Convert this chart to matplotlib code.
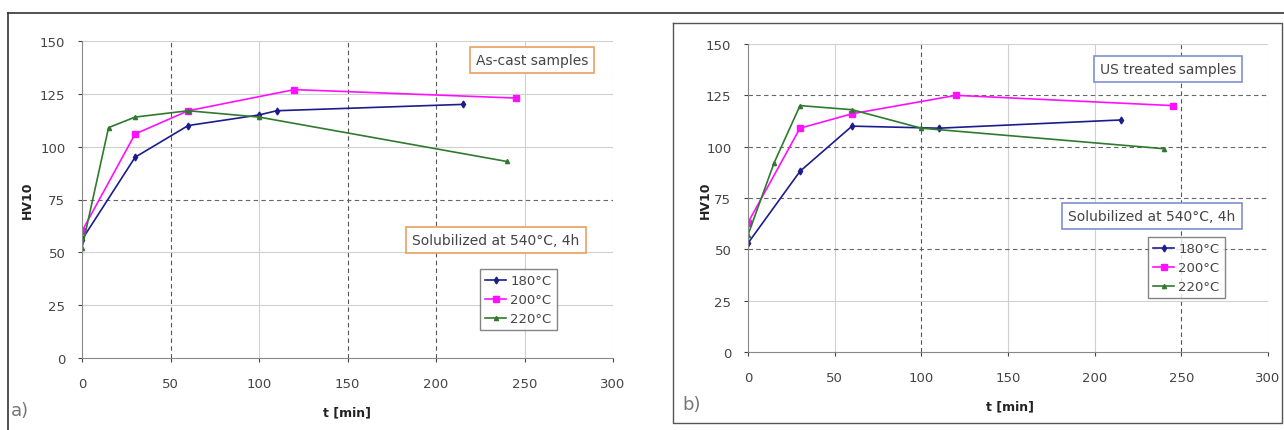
import matplotlib
matplotlib.use("Agg")
import matplotlib.pyplot as plt
from matplotlib.lines import Line2D

# as-cast samples (panel a)
t_a_180 = [0, 30, 60, 100, 110, 215]
hv_a_180 = [56, 95, 110, 115, 117, 120]
t_a_200 = [0, 30, 60, 120, 245]
hv_a_200 = [60, 106, 117, 127, 123]
t_a_220 = [0, 15, 30, 60, 100, 240]
hv_a_220 = [52, 109, 114, 117, 114, 93]

# US treated samples (panel b)
t_b_180 = [0, 30, 60, 110, 215]
hv_b_180 = [53, 88, 110, 109, 113]
t_b_200 = [0, 30, 60, 120, 245]
hv_b_200 = [63, 109, 116, 125, 120]
t_b_220 = [0, 15, 30, 60, 100, 240]
hv_b_220 = [57, 92, 120, 118, 109, 99]

series_labels = ["180°C", "200°C", "220°C"]
x_ticks = [0, 50, 100, 150, 200, 250, 300]
y_ticks = [0, 25, 50, 75, 100, 125, 150]

W, H = 1284, 431
txt = "#444444"
colors = ["#1c1c8c", "#ff10ff", "#2f7a2f"]
markers = ["d", "s", "^"]
msizes = [3.5, 4, 3]

fig = plt.figure(figsize=(W / 100, H / 100), dpi=100)


def fx(px):
    return px / W


def fy(py):
    return 1 - py / H


def panel(rect, data, vgrid_dark, hgrid_dark, box_color, title, title_xy, sol_xy, leg_xy):
    ax = fig.add_axes(rect)
    for (t, hv), c, m, s, lab in zip(data, colors, markers, msizes, series_labels):
        ax.plot(t, hv, color=c, marker=m, markersize=s, lw=1.2, label=lab)
    ax.set_xlim(0, 300)
    ax.set_ylim(0, 150)
    ax.set_xticks(x_ticks)
    ax.set_yticks(y_ticks)
    ax.tick_params(labelsize=9.5, colors=txt, length=3)
    ax.tick_params(axis="x", pad=11)
    ax.tick_params(axis="y", pad=9)
    for sp in ["top", "right"]:
        ax.spines[sp].set_visible(False)
    for sp in ["left", "bottom"]:
        ax.spines[sp].set_color("#888888")
    for v in x_ticks[1:]:
        dark = v in vgrid_dark
        ax.axvline(v, color="#555555" if dark else "#d0d0d0", lw=0.8,
                   ls=(0, (4, 3)) if dark else "-", zorder=0)
    for v in y_ticks[1:]:
        dark = v in hgrid_dark
        ax.axhline(v, color="#666666" if dark else "#d0d0d0", lw=0.8,
                   ls=(0, (4, 3)) if dark else "-", zorder=0)
    bbox = dict(boxstyle="square,pad=0.45", fc="white", ec=box_color, lw=1.2)
    fig.text(fx(title_xy[0]), fy(title_xy[1]), title, fontsize=10, color=txt,
             ha="center", va="center", bbox=bbox)
    fig.text(fx(sol_xy[0]), fy(sol_xy[1]), "Solubilized at 540°C, 4h", fontsize=10,
             color=txt, ha="center", va="center", bbox=bbox)
    leg = ax.legend(loc="upper left", bbox_to_anchor=(fx(leg_xy[0]), fy(leg_xy[1])),
                    bbox_transform=fig.transFigure, fontsize=9.5, frameon=True,
                    fancybox=False, handlelength=1.6, handletextpad=0.3,
                    borderpad=0.4, labelspacing=0.45, borderaxespad=0)
    leg.get_frame().set_edgecolor("#666666")
    for t in leg.get_texts():
        t.set_color(txt)
    return ax


# panel a
panel([fx(82), fy(359), fx(613 - 82), (359 - 42) / H],
      [(t_a_180, hv_a_180), (t_a_200, hv_a_200), (t_a_220, hv_a_220)],
      vgrid_dark=[50, 150, 200], hgrid_dark=[75], box_color="#e8a060",
      title="As-cast samples", title_xy=(532, 61), sol_xy=(496, 241), leg_xy=(480, 270))
fig.text(fx(347), fy(413), "t [min]", fontsize=9, fontweight="bold", ha="center", va="center", color="#222222")
fig.text(fx(27), fy(200), "HV10", fontsize=9, fontweight="bold", rotation=90, ha="center", va="center", color="#222222")
fig.text(fx(20), fy(411), "a)", fontsize=13, ha="center", va="center", color="#777777")

# panel b
panel([fx(748), fy(353), fx(1268 - 748), (353 - 45) / H],
      [(t_b_180, hv_b_180), (t_b_200, hv_b_200), (t_b_220, hv_b_220)],
      vgrid_dark=[100, 250], hgrid_dark=[50, 75, 100, 125], box_color="#8090d0",
      title="US treated samples", title_xy=(1168, 70), sol_xy=(1152, 217), leg_xy=(1148, 238))
fig.text(fx(1010), fy(407), "t [min]", fontsize=9, fontweight="bold", ha="center", va="center", color="#222222")
fig.text(fx(705), fy(200), "HV10", fontsize=9, fontweight="bold", rotation=90, ha="center", va="center", color="#222222")
fig.text(fx(692), fy(405), "b)", fontsize=13, ha="center", va="center", color="#777777")

# panel frames
fig.add_artist(Line2D([fx(8), fx(1284)], [fy(14), fy(14)], color="#333333", lw=1.2))
fig.add_artist(Line2D([fx(8), fx(8)], [fy(14), 0], color="#333333", lw=1.2))
fig.add_artist(Line2D([fx(673), fx(673), fx(1282), fx(1282), fx(673)],
                      [fy(24), fy(424), fy(424), fy(24), fy(24)], color="#555555", lw=1))

fig.savefig("out.png", dpi=100)
